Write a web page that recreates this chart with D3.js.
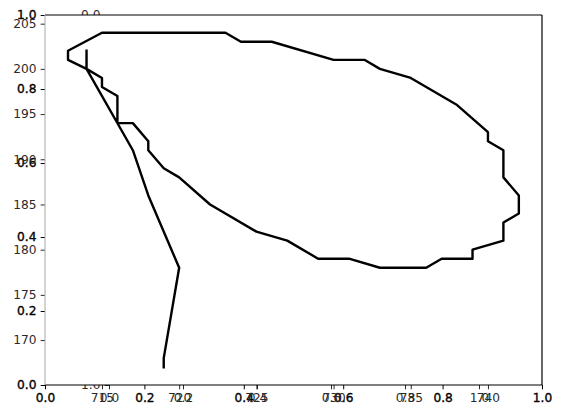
<!DOCTYPE html>
<html>
<head>
<meta charset="utf-8">
<script src="https://cdn.jsdelivr.net/npm/d3@7"></script>
<style>
  html, body { margin: 0; padding: 0; background: #fff; }
  svg { display: block; }
</style>
</head>
<body>
<svg id="chart" width="563" height="418"></svg>
<script>
// ---- data ----
const baseTicks = [0.0, 0.2, 0.4, 0.6, 0.8, 1.0];
const insetTicks = [0.0, 0.2, 0.4, 0.6, 0.8, 1.0];
const dataXTicks = [715, 720, 725, 730, 735, 740];
const dataYTicks = [170, 175, 180, 185, 190, 195, 200, 205];
const trackX = [719, 719, 720, 718, 717, 714, 712.8, 712.8, 715, 723, 724, 726, 730, 732, 733, 735, 738, 740, 740, 741, 741, 742, 742, 741, 741, 739, 739, 737, 736, 733, 731, 729, 727, 725, 722, 720, 719, 718, 718, 717, 716, 716, 715, 715, 714, 714];
const trackY = [167, 168, 178, 186, 191, 200, 201, 202, 204, 204, 203, 203, 201, 201, 200, 199, 196, 193, 192, 191, 188, 186, 184, 183, 181, 180, 179, 179, 178, 178, 179, 179, 181, 182, 185, 188, 189, 191, 192, 194, 194, 197, 198, 199, 200, 202];

// ---- layout ----
const L = 45, R = 542, T = 15, B = 385;
const insetL = 109, insetR = 479;
const fs = 12.2, tk = 4.3, pad = 4.3;
const font = "DejaVu Sans";

const svg = d3.select("#chart");
svg.append("rect").attr("width", 563).attr("height", 418).attr("fill", "#fff");

const xBase = d3.scaleLinear([0, 1], [L, R]);
const yBase = d3.scaleLinear([0, 1], [B, T]);
const xInset = d3.scaleLinear([0, 1], [insetL, insetR]);
const yInset = d3.scaleLinear([0, 1], [T, B]);
const xData = d3.scaleLinear([711.31, 743.50], [L, R]);
const yData = d3.scaleLinear([165.03, 205.96], [B, T]);

function styleAxis(g, color, strokeW) {
  g.select(".domain").remove();
  g.attr("font-family", font).attr("font-size", fs).attr("color", color);
  g.selectAll("line").attr("stroke-width", 1);
  if (strokeW) g.selectAll("text").attr("stroke", color).attr("stroke-width", strokeW);
}

const f1 = d3.format(".1f");

// base 0..1 axes (drawn below)
svg.append("g").attr("transform", `translate(0,${B})`)
  .call(d3.axisBottom(xBase).tickValues(baseTicks).tickFormat(f1).tickSize(tk).tickPadding(pad))
  .call(g => styleAxis(g, "#000", 0.35));
svg.append("g").attr("transform", `translate(${L},0)`)
  .call(d3.axisLeft(yBase).tickValues(baseTicks).tickFormat(f1).tickSize(tk).tickPadding(pad))
  .call(g => styleAxis(g, "#000", 0.35));

// inset square axes (mostly hidden)
svg.append("g").attr("transform", `translate(0,${B})`)
  .call(d3.axisBottom(xInset).tickValues(insetTicks).tickFormat(f1).tickSize(tk).tickPadding(pad))
  .call(g => styleAxis(g, "#2a2a2a"));
svg.append("g").attr("transform", `translate(${insetL},0)`)
  .call(d3.axisLeft(yInset).tickValues(insetTicks).tickFormat(f1).tickSize(tk).tickPadding(pad))
  .call(g => styleAxis(g, "#2a2a2a"));

// data axes background
svg.append("rect").attr("x", L).attr("y", T).attr("width", R - L).attr("height", B - T).attr("fill", "#fff");

// data axes ticks
svg.append("g").attr("transform", `translate(0,${B})`)
  .call(d3.axisBottom(xData).tickValues(dataXTicks).tickFormat(d3.format("d")).tickSize(tk).tickPadding(pad))
  .call(g => styleAxis(g, "#2a2a2a"));
svg.append("g").attr("transform", `translate(${L},0)`)
  .call(d3.axisLeft(yData).tickValues(dataYTicks).tickFormat(d3.format("d")).tickSize(tk).tickPadding(pad))
  .call(g => styleAxis(g, "#2a2a2a"));

// spines
svg.append("line").attr("x1", L).attr("x2", R).attr("y1", T).attr("y2", T).attr("stroke", "#000").attr("stroke-width", 1.2);
svg.append("line").attr("x1", L).attr("x2", R).attr("y1", B).attr("y2", B).attr("stroke", "#000").attr("stroke-width", 1.2);
svg.append("line").attr("x1", R).attr("x2", R).attr("y1", T).attr("y2", B).attr("stroke", "#000").attr("stroke-width", 1.2);
svg.append("line").attr("x1", L).attr("x2", L).attr("y1", T).attr("y2", B).attr("stroke", "#a8a8a8").attr("stroke-width", 1);

// track line
const pts = trackX.map((x, i) => [x, trackY[i]]);
svg.append("path")
  .attr("d", d3.line().x(d => xData(d[0])).y(d => yData(d[1]))(pts))
  .attr("fill", "none").attr("stroke", "#000").attr("stroke-width", 2.4)
  .attr("stroke-linejoin", "round").attr("stroke-linecap", "square");
</script>
</body>
</html>
